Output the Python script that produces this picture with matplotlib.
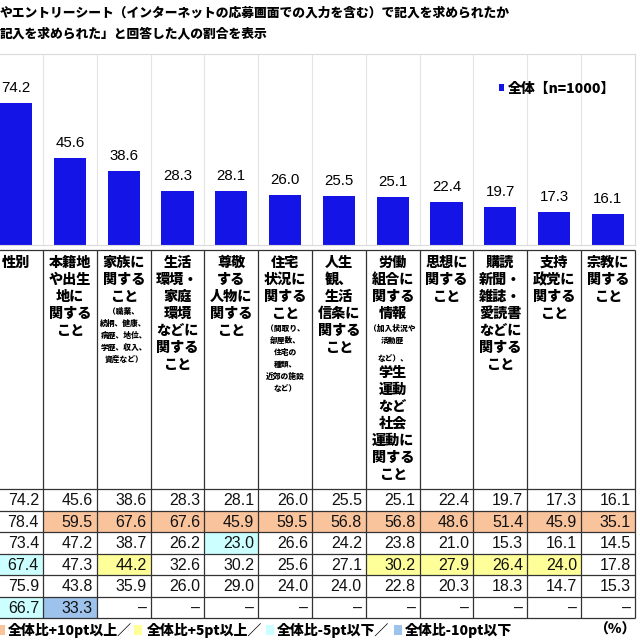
import matplotlib
matplotlib.use('Agg')
import matplotlib.pyplot as plt
from matplotlib.patches import Rectangle

plt.rcParams['font.family'] = ['Noto Sans CJK JP', 'DejaVu Sans']

# data
overall = [74.2, 45.6, 38.6, 28.3, 28.1, 26.0, 25.5, 25.1, 22.4, 19.7, 17.3, 16.1]
row_1 = [74.2, 45.6, 38.6, 28.3, 28.1, 26.0, 25.5, 25.1, 22.4, 19.7, 17.3, 16.1]
row_2 = [78.4, 59.5, 67.6, 67.6, 45.9, 59.5, 56.8, 56.8, 48.6, 51.4, 45.9, 35.1]
row_3 = [73.4, 47.2, 38.7, 26.2, 23.0, 26.6, 24.2, 23.8, 21.0, 15.3, 16.1, 14.5]
row_4 = [67.4, 47.3, 44.2, 32.6, 30.2, 25.6, 27.1, 30.2, 27.9, 26.4, 24.0, 17.8]
row_5 = [75.9, 43.8, 35.9, 26.0, 29.0, 24.0, 24.0, 22.8, 20.3, 18.3, 14.7, 15.3]
row_6 = [66.7, 33.3, None, None, None, None, None, None, None, None, None, None]
table_rows = [row_1, row_2, row_3, row_4, row_5, row_6]

# header labels, "_" = small note line, "" = small gap
headers = [
    ["性別"],
    ["本籍地", "や出生", "地に", "関する", "こと"],
    ["家族に", "関する", "こと", "_（職業、", "_続柄、健康、", "_病歴、地位、", "_学歴、収入、", "_資産など）"],
    ["生活", "環境・", "家庭", "環境", "などに", "関する", "こと"],
    ["尊敬", "する", "人物に", "関する", "こと"],
    ["住宅", "状況に", "関する", "こと", "_（間取り、", "_部屋数、", "_住宅の", "_種類、", "_近郊の施設", "_など）"],
    ["人生", "観、", "生活", "信条に", "関する", "こと"],
    ["労働", "組合に", "関する", "情報", "_（加入状況や", "_活動歴", "", "_など）、",
     "学生", "運動", "など", "社会", "運動に", "関する", "こと"],
    ["思想に", "関する", "こと"],
    ["購読", "新聞・", "雑誌・", "愛読書", "などに", "関する", "こと"],
    ["支持", "政党に", "関する", "こと"],
    ["宗教に", "関する", "こと"],
]

title_lines = ["やエントリーシート（インターネットの応募画面での入力を含む）で記入を求められたか",
               "記入を求められた」と回答した人の割合を表示"]

key_labels = ["全体比+10pt以上／", "全体比+5pt以上／", "全体比-5pt以下／", "全体比-10pt以下"]

bar_color = '#1414E6'
c_orange = '#F9C39C'
c_yellow = '#FFFF99'
c_cyan = '#CCFFFF'
c_blue = '#9DC3EC'
key_colors = [c_orange, c_yellow, c_cyan, c_blue]


def cell_color(v, base):
    if v is None:
        return None
    d = round(v - base, 1)
    if d >= 10:
        return c_orange
    if d >= 5:
        return c_yellow
    if d <= -10:
        return c_blue
    if d <= -5:
        return c_cyan
    return None


fig = plt.figure(figsize=(6.4, 6.4), dpi=100)

col_w = 53.8
n = len(overall)
x0 = 43 - col_w
ax_left = x0 / 640
ax_w = col_w * n / 640

# overlay in pixel coords for title and key
ov = fig.add_axes([0, 0, 1, 1])
ov.set_xlim(0, 640)
ov.set_ylim(640, 0)
ov.axis('off')

ov.text(0, 13, title_lines[0], fontsize=9.2, fontweight='heavy', va='center', ha='left')
ov.text(0, 33, title_lines[1], fontsize=9.2, fontweight='heavy', va='center', ha='left')

#bar chart
ax = fig.add_axes([ax_left, 1 - 245 / 640, ax_w, (245 - 54) / 640])
xs = list(range(n))
ax.bar(xs, overall, width=0.6, color=bar_color, label='全体【n=1000】', zorder=2)
for i, v in enumerate(overall):
    ax.annotate(f"{v:.1f}", (i, v), xytext=(0, 11), textcoords='offset points',
                ha='center', va='center', fontsize=10.8, family='Liberation Sans')
ax.set_xlim(-0.5, n - 0.5)
ax.set_ylim(0, 100)
ax.set_xticks([i + 0.5 for i in range(-1, n)])
ax.set_xticklabels([])
ax.set_yticks([])
ax.tick_params(length=0)
ax.xaxis.grid(True, color='#E3E3E3', lw=0.8)
ax.set_axisbelow(True)
for s in ax.spines.values():
    s.set_color('#DADADA')
    s.set_linewidth(0.8)
ax.legend(loc='center left', bbox_to_anchor=(0.789, 0.817), frameon=False,
          prop={'weight': 'heavy', 'size': 10}, handlelength=0.4, handleheight=0.4,
          handletextpad=0.3, borderpad=0, borderaxespad=0)

# table
tab = fig.add_axes([ax_left, 1 - 618 / 640, ax_w, (618 - 250) / 640])
tab.set_xlim(-0.5, n - 0.5)
tab.set_ylim(618, 250)
tab.axis('off')

row_h = 21.5
body_top = 489
for r, row in enumerate(table_rows):
    top = body_top + r * row_h
    for i, v in enumerate(row):
        c = cell_color(v, overall[i])
        if c:
            tab.add_patch(Rectangle((i - 0.5, top), 1, row_h, facecolor=c, edgecolor='none'))
        txt = "–" if v is None else f"{v:.1f}"
        tab.text(i + 0.5 - 0.075, top + row_h / 2 + 1, txt, ha='right', va='center',
                 fontsize=11.5, family='Liberation Sans', color='#111111')

# header texts
for i, lines in enumerate(headers):
    cur = 254.5
    for ln in lines:
        if ln == "":
            cur += 6
            continue
        if ln.startswith("_"):
            h = 12
            tab.text(i, cur + h / 2, ln[1:], ha='center', va='center', fontsize=5.6, fontweight='heavy')
        else:
            h = 17
            tab.text(i, cur + h / 2, ln, ha='center', va='center', fontsize=10.2, fontweight='heavy')
        cur += h

hlines = [250] + [body_top + r * row_h for r in range(len(table_rows) + 1)]
tab.hlines(hlines, -0.5, n - 0.5, color='#333333', lw=0.9, clip_on=False)
tab.vlines([i + 0.5 for i in range(-1, n)], 250, 618, color='#333333', lw=0.9, clip_on=False)

# color key
sq_x = [-3, 134, 266, 394]
tx_x = [8, 147, 277, 405]
for c, sx, tx, lab in zip(key_colors, sq_x, tx_x, key_labels):
    ov.add_patch(Rectangle((sx, 625), 8, 10, facecolor=c, edgecolor='none'))
    ov.text(tx, 630, lab, ha='left', va='center', fontsize=10, fontweight='heavy')
ov.text(635, 630, "（%）", ha='right', va='center', fontsize=10, fontweight='heavy')

fig.savefig('out.png', dpi=100)
